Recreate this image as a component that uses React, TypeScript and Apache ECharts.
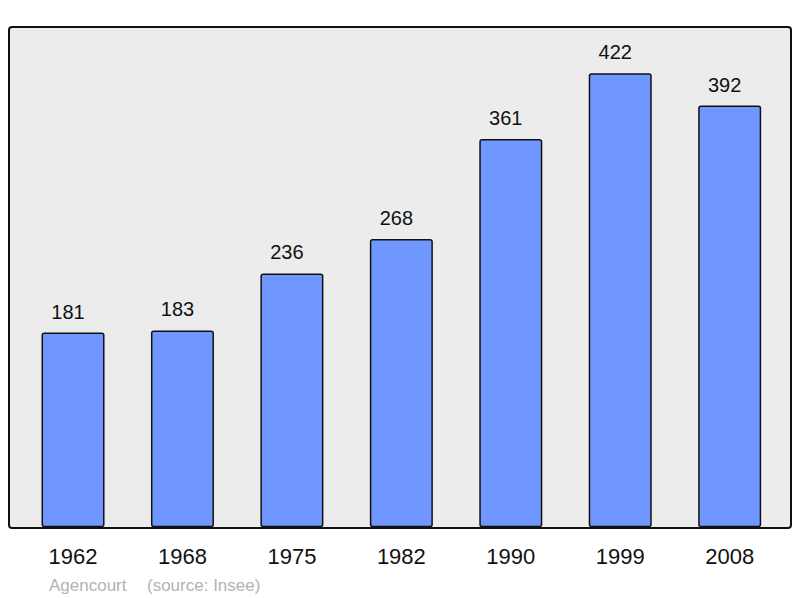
import React, { useEffect, useRef } from 'react';
import * as echarts from 'echarts';

const years = ['1962', '1968', '1975', '1982', '1990', '1999', '2008'];
const population = [181, 183, 236, 268, 361, 422, 392];
const townName = 'Agencourt';
const sourceNote = '(source: Insee)';

const App: React.FC = () => {
  const chartRef = useRef<HTMLDivElement>(null);

  useEffect(() => {
    if (!chartRef.current) return;
    const chart = echarts.init(chartRef.current, undefined, { renderer: 'svg' });

    const option = {
      animation: false,
      textStyle: { fontFamily: 'Liberation Sans, Arial, sans-serif' },
      grid: { left: 18.3, right: 15.6, top: 27, bottom: 70.7 },
      graphic: [
        {
          type: 'rect',
          z: -10,
          shape: { x: 9, y: 27, width: 782, height: 501, r: 3 },
          style: { fill: '#ececec', stroke: '#111', lineWidth: 2 },
        },
        {
          type: 'text',
          x: 49,
          y: 585,
          style: {
            text: townName,
            fill: '#b3b3b3',
            font: '17px "Liberation Sans", Arial, sans-serif',
            verticalAlign: 'middle',
          },
        },
        {
          type: 'text',
          x: 147,
          y: 585,
          style: {
            text: sourceNote,
            fill: '#b3b3b3',
            font: '17px "Liberation Sans", Arial, sans-serif',
            verticalAlign: 'middle',
          },
        },
      ],
      xAxis: {
        type: 'category',
        data: years,
        axisLine: { show: false },
        axisTick: { show: false },
        axisLabel: {
          color: '#111',
          fontSize: 22,
          lineHeight: 22,
          margin: 18,
        },
      },
      yAxis: {
        type: 'value',
        min: 0,
        max: 465,
        show: false,
        splitLine: { show: false },
      },
      series: [
        {
          type: 'bar',
          data: population,
          barWidth: 63,
          itemStyle: {
            color: '#7096ff',
            borderColor: '#111',
            borderWidth: 1.5,
            borderRadius: 2,
          },
          label: {
            show: true,
            position: 'top',
            distance: 11,
            offset: [-5, 0],
            color: '#111',
            fontSize: 20,
            lineHeight: 20,
          },
        },
      ],
    };

    chart.setOption(option);
    return () => {
      chart.dispose();
    };
  }, []);

  return (
    <div
      ref={chartRef}
      style={{ position: 'absolute', left: 0, top: 0, width: '800px', height: '598px' }}
    />
  );
};

export default App;
